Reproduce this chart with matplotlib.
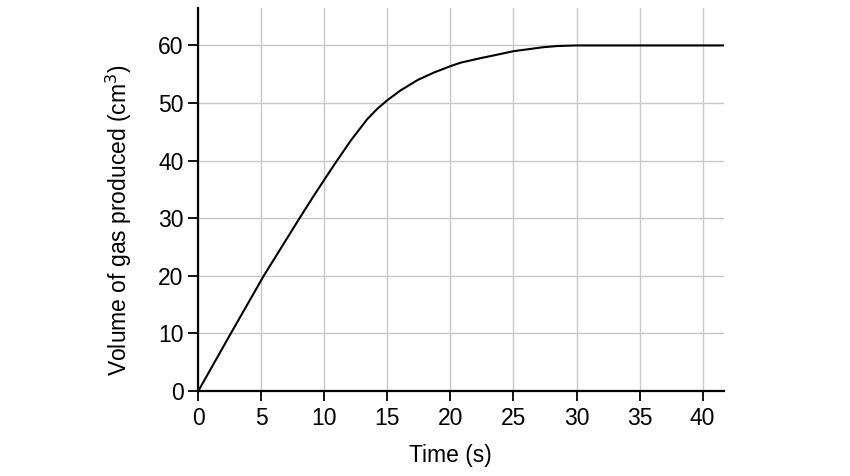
import matplotlib
matplotlib.use("Agg")
import matplotlib.pyplot as plt

# values
time_s = [0, 2.58, 5.19, 8.03, 9.13, 10.0, 11.0, 12.1, 13.4, 14.2, 15.0, 16.05, 17.4,
          18.7, 20.0, 20.8, 22.4, 23.5, 25.0, 27.4, 28.5, 30.0, 35.0, 42.0]
volume_cm3 = [0, 10, 20, 30, 33.8, 36.7, 40.0, 43.5, 47.2, 49.0, 50.5, 52.2, 54.0,
              55.3, 56.4, 57.0, 57.8, 58.3, 59.0, 59.7, 59.9, 60, 60, 60]

x_ticks = [0, 5, 10, 15, 20, 25, 30, 35, 40]
y_ticks = [0, 10, 20, 30, 40, 50, 60]

plt.rcParams['font.family'] = ['Liberation Sans', 'DejaVu Sans']

fig = plt.figure(figsize=(8.5, 4.76), dpi=100)
ax = fig.add_axes([0.2333, 0.1786, 0.6185, 0.8046])

ax.plot(time_s, volume_cm3, color='black', linewidth=1.5, solid_capstyle='round',
        solid_joinstyle='round', zorder=3)

ax.set_xlim(0, 41.7)
ax.set_ylim(0, 66.5)
ax.set_xticks(x_ticks)
ax.set_yticks(y_ticks)
ax.grid(True, color='#c8c8c8', linewidth=1.0)
ax.set_axisbelow(True)

for side in ['top', 'right']:
    ax.spines[side].set_visible(False)
for side in ['left', 'bottom']:
    ax.spines[side].set_linewidth(1.6)
ax.tick_params(direction='out', length=7.5, width=1.3, labelsize=16.5)
ax.tick_params(axis='y', pad=3)
ax.tick_params(axis='x', pad=4)

ax.set_xlabel('Time (s)', fontsize=16.5)
ax.set_ylabel('Volume of gas produced (cm$^3$)', fontsize=16.5)
ax.xaxis.set_label_coords(0.48, -0.138)
ax.yaxis.set_label_coords(-0.123, 0.445)

fig.savefig('out.png', dpi=100)
